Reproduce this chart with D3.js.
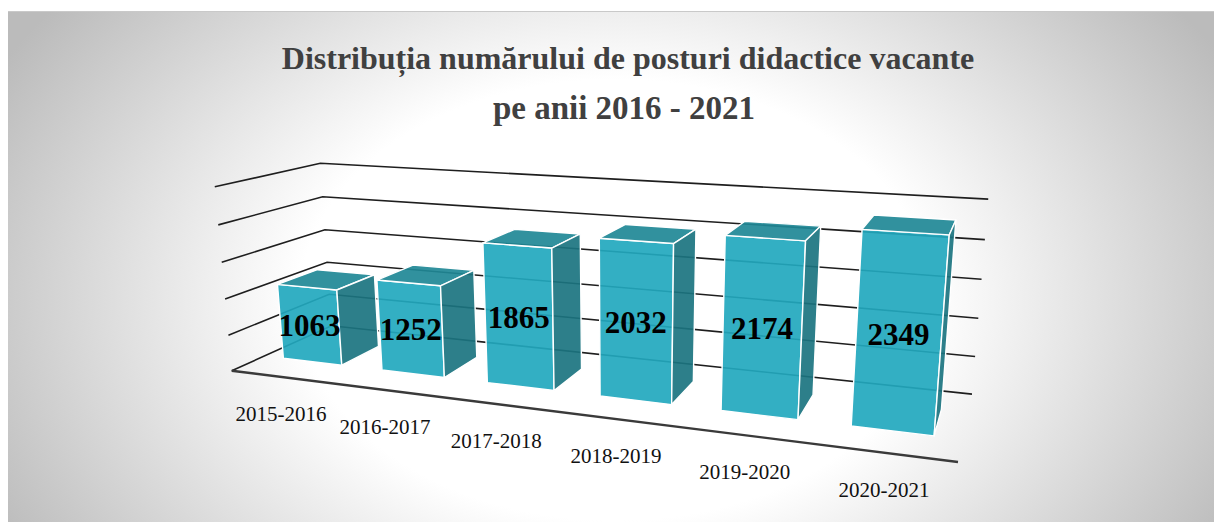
<!DOCTYPE html>
<html>
<head>
<meta charset="utf-8">
<script src="https://cdn.jsdelivr.net/npm/d3@7"></script>
<style>
body { margin: 0; background: #fff; }
</style>
</head>
<body>
<div id="chart"></div>
<script>
// data
const categories = ["2015-2016", "2016-2017", "2017-2018", "2018-2019", "2019-2020", "2020-2021"];
const values = [1063, 1252, 1865, 2032, 2174, 2349];
const gridValues = [0, 500, 1000, 1500, 2000, 2500];

const width = 1217;
const height = 522;

const svg = d3.select("#chart")
  .append("svg")
    .attr("width", width)
    .attr("height", height);

// background panel with radial gradient
const defs = svg.append("defs");
const grad = defs.append("radialGradient")
  .attr("id", "bg")
  .attr("gradientUnits", "userSpaceOnUse")
  .attr("cx", 615).attr("cy", 300).attr("r", 700)
  .attr("gradientTransform", "translate(615,300) scale(1,0.7) translate(-615,-300)");
grad.append("stop").attr("offset", 0).attr("stop-color", "#ffffff");
grad.append("stop").attr("offset", 0.45).attr("stop-color", "#ffffff");
grad.append("stop").attr("offset", 1).attr("stop-color", "#bbbbbb");

svg.append("rect")
  .attr("x", 8).attr("y", 11)
  .attr("width", 1206).attr("height", 511)
  .attr("fill", "url(#bg)");
svg.append("line")
  .attr("x1", 8).attr("x2", 1214).attr("y1", 11.5).attr("y2", 11.5)
  .attr("stroke", "#c9c9c9").attr("stroke-width", 1);

// title
svg.append("text")
  .attr("x", 628).attr("y", 69)
  .attr("text-anchor", "middle")
  .style("font-family", "'Liberation Serif', 'Times New Roman', serif")
  .style("font-weight", "bold")
  .style("font-size", "32px")
  .attr("fill", "#404040")
  .text("Distribuția numărului de posturi didactice vacante");

svg.append("text")
  .attr("x", 624).attr("y", 119)
  .attr("text-anchor", "middle")
  .style("font-family", "'Liberation Serif', 'Times New Roman', serif")
  .style("font-weight", "bold")
  .style("font-size", "33px")
  .attr("fill", "#404040")
  .text("pe anii 2016 - 2021");

// 3d box: u = category axis, v = value axis, w = depth (0 front, 1 back)
// screen positions of the box corners, used to fit a perspective projection
const anchors = [
  [[0, 0, 0], [232, 371]],
  [[0, 0.2, 0], [228, 335]],
  [[0, 0.4, 0], [225, 299]],
  [[0, 0.6, 0], [222, 262]],
  [[0, 0.8, 0], [218, 225]],
  [[0, 1, 0], [215, 187]],
  [[0, 1, 1], [320, 163]],
  [[0, 0.8, 1], [323, 197]],
  [[0, 0.6, 1], [325, 230]],
  [[0, 0.4, 1], [327, 262]],
  [[1, 1, 1], [988, 199]],
  [[1, 0.8, 1], [985, 240]],
  [[1, 0.6, 1], [982, 279]],
  [[1, 0.4, 1], [978, 318]],
  [[1, 0.2, 1], [975, 357]],
  [[1, 0, 1], [972, 394]],
  [[1, 0, 0], [958, 462]]
];

function solveProjection(pts) {
  const A = [], b = [];
  pts.forEach(function([[X, Y, Z], [x, y]]) {
    A.push([X, Y, Z, 1, 0, 0, 0, 0, -x * X, -x * Y, -x * Z]); b.push(x);
    A.push([0, 0, 0, 0, X, Y, Z, 1, -y * X, -y * Y, -y * Z]); b.push(y);
  });
  const n = 11;
  const M = d3.range(n).map(i => d3.range(n + 1).map(j =>
    j < n ? d3.sum(A, r => r[i] * r[j]) : d3.sum(A, (r, k) => r[i] * b[k])));
  for (let c = 0; c < n; c++) {
    let p = c;
    for (let r = c + 1; r < n; r++) if (Math.abs(M[r][c]) > Math.abs(M[p][c])) p = r;
    [M[c], M[p]] = [M[p], M[c]];
    for (let r = 0; r < n; r++) {
      if (r === c) continue;
      const f = M[r][c] / M[c][c];
      for (let k = c; k <= n; k++) M[r][k] -= f * M[c][k];
    }
  }
  return M.map((r, i) => r[n] / r[i]);
}

const P = solveProjection(anchors);
function project([u, v, w]) {
  const d = P[8] * u + P[9] * v + P[10] * w + 1;
  return [(P[0] * u + P[1] * v + P[2] * w + P[3]) / d,
          (P[4] * u + P[5] * v + P[6] * w + P[7]) / d];
}

const x = d3.scaleBand()
  .domain(categories)
  .range([0, 1])
  .paddingInner(0.4)
  .paddingOuter(0.2);

const y = d3.scaleLinear()
  .domain([0, 2500])
  .range([0, 1]);

const depth = [0.3, 0.7];
const line = d3.line();

// gridlines on left and back walls
svg.append("g")
  .selectAll("path")
  .data(gridValues)
  .join("path")
    .attr("d", d => line([[0, y(d), 0], [0, y(d), 1], [1, y(d), 1]].map(project)))
    .attr("fill", "none")
    .attr("stroke", "#1e1e1e")
    .attr("stroke-width", 1.6);

// front edge of the floor
svg.append("path")
  .attr("d", line([[0, 0, 0], [1, 0, 0]].map(project)))
  .attr("fill", "none")
  .attr("stroke", "#3a3a3a")
  .attr("stroke-width", 2.4);

// bars
const bars = svg.append("g")
  .selectAll("g")
  .data(categories.map((c, i) => ({cat: c, value: values[i]})))
  .join("g");

function faces(d) {
  const u0 = x(d.cat), u1 = u0 + x.bandwidth();
  const v1 = y(d.value);
  const [w0, w1] = depth;
  return [
    {fill: "#22a8be", pts: [[u0, 0, w0], [u1, 0, w0], [u1, v1, w0], [u0, v1, w0]]},
    {fill: "#1f8896", pts: [[u0, v1, w0], [u1, v1, w0], [u1, v1, w1], [u0, v1, w1]]},
    {fill: "#1b7480", pts: [[u1, 0, w0], [u1, 0, w1], [u1, v1, w1], [u1, v1, w0]]}
  ];
}

bars.selectAll("path")
  .data(d => faces(d))
  .join("path")
    .attr("d", f => line(f.pts.map(project)) + "Z")
    .attr("fill", f => f.fill)
    .attr("fill-opacity", 0.92)
    .attr("stroke", "#ffffff")
    .attr("stroke-width", 1.4)
    .attr("stroke-linejoin", "round");

// value labels on the front faces
bars.append("text")
  .attr("transform", d => {
    const p = project([x(d.cat) + x.bandwidth() / 2, y(d.value) / 2, depth[0]]);
    return `translate(${p[0]},${p[1]})`;
  })
  .attr("text-anchor", "middle")
  .attr("dy", "0.35em")
  .style("font-family", "'Liberation Serif', 'Times New Roman', serif")
  .style("font-weight", "bold")
  .style("font-size", "31px")
  .attr("fill", "#000")
  .text(d => d.value);

// category labels below the floor
svg.append("g")
  .selectAll("text")
  .data(categories)
  .join("text")
    .attr("transform", d => {
      const p = project([x(d) + x.bandwidth() / 2, 0, 0]);
      return `translate(${p[0]},${p[1] + 44})`;
    })
    .attr("text-anchor", "middle")
    .style("font-family", "'Liberation Serif', 'Times New Roman', serif")
    .style("font-size", "21px")
    .attr("fill", "#111")
    .text(d => d);
</script>
</body>
</html>
